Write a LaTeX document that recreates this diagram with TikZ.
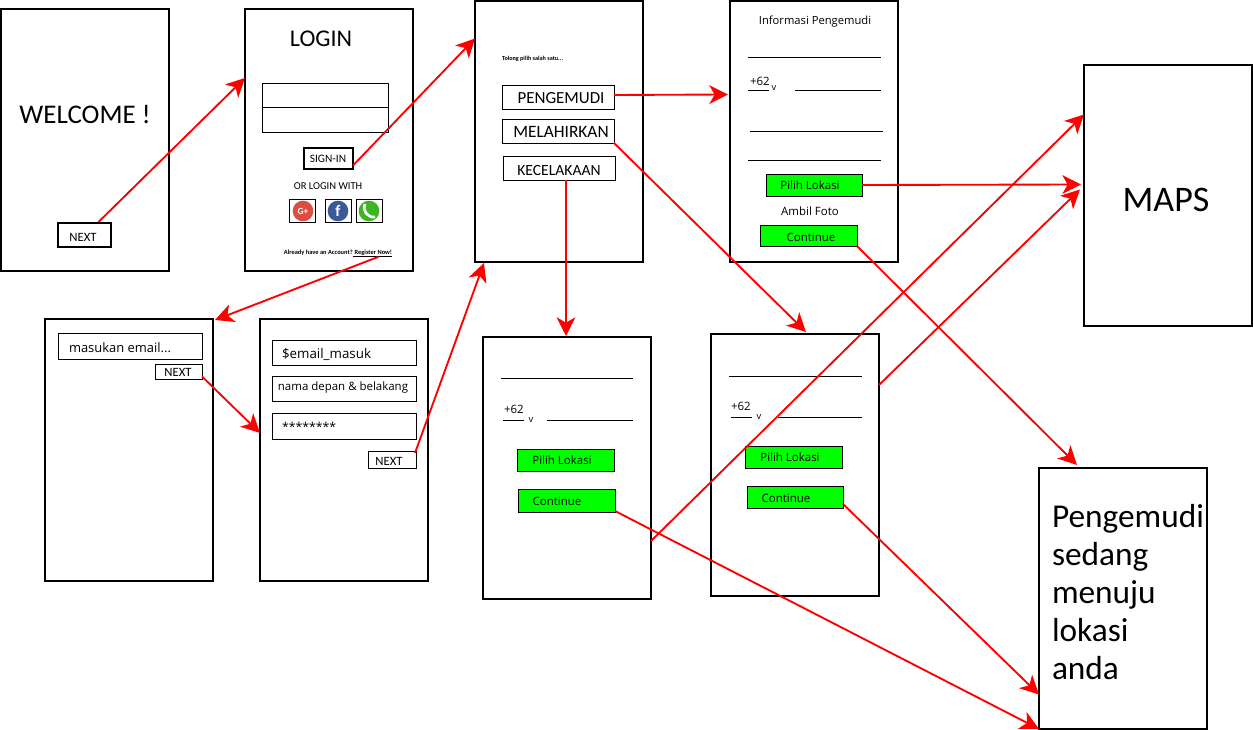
\documentclass[tikz,border=0pt]{standalone}
\usepackage{fontspec}
\setmainfont{Carlito}
\newfontfamily\uifont{Open Sans}
\usetikzlibrary{arrows.meta}
\definecolor{gred}{HTML}{DC4E41}
\definecolor{fblue}{HTML}{3B5998}
\definecolor{wgreen}{HTML}{3CB521}
\tikzset{
  screen/.style={draw=black,line width=1.5pt,fill=white},
  field/.style={draw=black,line width=0.65pt,fill=white},
  heavyfield/.style={draw=black,line width=1.1pt,fill=white},
  greenbtn/.style={draw=black,line width=0.65pt,fill=green},
  txt/.style={inner sep=0pt,outer sep=0pt,text=black},
  rule/.style={draw=black,line width=0.75pt},
  flow/.style={draw=red,line width=1.4pt,-{Stealth[length=14pt,width=14pt,inset=4pt]}},
  icon/.style={circle,minimum size=15.5pt,inner sep=0pt,text=white},
}
% name, style, x1, y1, x2, y2 (pixel coordinates)
\newcommand{\bx}[7][]{%
  \node[#3,#1,inner sep=0pt,outer sep=0pt,minimum width={(#6-#4)*0.75pt},minimum height={(#7-#5)*0.75pt}]
    (#2) at ({(#4+#6)/2},{(#5+#7)/2}) {};}
\begin{document}
\begin{tikzpicture}[x=0.75pt,y=-0.75pt]
\useasboundingbox (0,0) rectangle (1253,730);
\fill[white] (0,0) rectangle (1253,730);
% screens
\bx{welcome}{screen}{1}{9}{169}{271}
\bx{login}{screen}{245}{9}{413}{271}
\bx{choose}{screen}{475}{1}{643}{262}
\bx{driver}{screen}{730}{1}{898}{262}
\bx{maps}{screen}{1084}{65}{1252}{326}
\bx{email}{screen}{45}{319}{213}{581}
\bx{signup}{screen}{260}{319}{428}{581}
\bx{accident}{screen}{483}{337}{651}{599}
\bx{birth}{screen}{711}{334}{879}{596}
\bx{final}{screen}{1039}{468}{1207}{729}
% welcome
\node[txt,font=\fontsize{20.2}{24}\selectfont] (welcometext) at (85,115) {WELCOME !};
\bx{next1}{heavyfield}{58}{223}{111}{247}
\node[txt,font=\fontsize{9.5}{11}\selectfont] (next1text) at (83,237) {NEXT};
% login
\node[txt,font=\fontsize{18}{22}\selectfont] (logintext) at (321,39) {LOGIN};
\bx{user}{field}{262}{83}{388}{107}
\bx{pass}{field}{262}{107}{388}{132}
\bx{signin}{heavyfield}{304}{148}{353}{169}
\node[txt,font=\fontsize{8.5}{10}\selectfont] (signintext) at (328,159) {SIGN-IN};
\node[txt,font=\fontsize{7.9}{10}\selectfont] (orlogin) at (328,186) {OR LOGIN WITH};
\bx{gbox}{field}{289}{199}{315}{222}
\bx{fbox}{field}{325}{199}{351}{222}
\bx{wbox}{field}{356}{199}{382}{222}
\node[icon,fill=gred,font=\bfseries\fontsize{7}{8}\selectfont] (gicon) at (303,211) {G+};
\node[icon,fill=fblue,font=\bfseries\fontsize{12}{12}\selectfont] (ficon) at (338,211) {f};
\node[icon,fill=wgreen] (wicon) at (369,211) {};
\draw[white,line width=2pt] (365,204) .. controls (362,211) and (368,218) .. (375,217);
\node[txt,font=\bfseries\fontsize{4.8}{6}\selectfont] (already) at (338,253) {Already have an Account? Register Now!};
\draw[rule] (353,257) -- (392,257);
% choose
\node[txt,anchor=west,font=\bfseries\fontsize{4.6}{6}\selectfont] (please) at (502,59) {Tolong pilih salah satu...};
\bx{bdriver}{field}{502}{85}{614}{109}
\bx{bbirth}{field}{502}{119}{614}{143}
\bx{baccident}{field}{503}{156}{615}{180}
\node[txt,font=\fontsize{12.7}{14}\selectfont] (tdriver) at (561,98) {PENGEMUDI};
\node[txt,font=\fontsize{13}{14}\selectfont] (tbirth) at (561,132) {MELAHIRKAN};
\node[txt,font=\fontsize{11.7}{13}\selectfont] (taccident) at (559,170) {KECELAKAAN};
% driver form
\node[txt,font=\uifont\fontsize{8.4}{10}\selectfont] (driverinfo) at (815,22) {Informasi Pengemudi};
\draw[rule] (748,58) -- (881,58);
\node[txt,anchor=west,font=\uifont\fontsize{8.6}{10}\selectfont] (code1) at (750,81) {+62};
\draw[rule] (748,90.5) -- (769,90.5);
\node[txt,font=\uifont\fontsize{7}{8}\selectfont] (v1) at (774,88) {v};
\draw[rule] (795,90.5) -- (881,90.5);
\draw[rule] (750,132) -- (883,132);
\draw[rule] (748,161) -- (881,161);
\bx{pick1}{greenbtn}{766}{174}{862}{196}
\node[txt,font=\uifont\fontsize{8.6}{10}\selectfont] (pick1text) at (810,185) {Pilih Lokasi};
\node[txt,font=\uifont\fontsize{8.6}{10}\selectfont] (photo) at (810,211) {Ambil Foto};
\bx{cont1}{greenbtn}{760}{225}{857}{246}
\node[txt,font=\uifont\fontsize{8.6}{10}\selectfont] (cont1text) at (811,237) {Continue};
% email
\bx{mail}{field}{58}{333}{202}{359}
\node[txt,anchor=west,font=\uifont\fontsize{9.7}{11}\selectfont] (mailtext) at (69,348) {masukan email...};
\bx{next2}{field}{155}{364}{202}{379}
\node[txt,font=\fontsize{9.5}{11}\selectfont] (next2text) at (178,372) {NEXT};
% signup
\bx{fmail}{field}{272}{340}{416}{365}
\node[txt,anchor=west,font=\uifont\fontsize{10}{11}\selectfont] (fmailtext) at (282,354) {\$email\_masuk};
\bx{fname}{field}{272}{376}{416}{401}
\node[txt,font=\uifont\fontsize{8.6}{10}\selectfont] (fnametext) at (343,388) {nama depan \& belakang};
\bx{fpass}{field}{272}{413}{416}{439}
\node[txt,anchor=west,font=\uifont\fontsize{9.2}{11}\selectfont] (fpasstext) at (282,427) {********};
\bx{next3}{field}{368}{451}{416}{468}
\node[txt,font=\fontsize{9.5}{11}\selectfont] (next3text) at (389,461) {NEXT};
% accident form
\draw[rule] (501,378.5) -- (633,378.5);
\node[txt,anchor=west,font=\uifont\fontsize{8.6}{10}\selectfont] (code2) at (504,409) {+62};
\draw[rule] (503,420.5) -- (524,420.5);
\node[txt,font=\uifont\fontsize{7}{8}\selectfont] (v2) at (531,420.5) {v};
\draw[rule] (547,420.5) -- (633,420.5);
\bx{pick2}{greenbtn}{517}{449}{614}{471}
\node[txt,font=\uifont\fontsize{8.6}{10}\selectfont] (pick2text) at (562,460.5) {Pilih Lokasi};
\bx{cont2}{greenbtn}{518}{489}{615}{512}
\node[txt,font=\uifont\fontsize{8.6}{10}\selectfont] (cont2text) at (557,501) {Continue};
% birth form
\draw[rule] (729,376.5) -- (862,376.5);
\node[txt,anchor=west,font=\uifont\fontsize{8.6}{10}\selectfont] (code3) at (731,406) {+62};
\draw[rule] (731,417.5) -- (752,417.5);
\node[txt,font=\uifont\fontsize{7}{8}\selectfont] (v3) at (759,417) {v};
\draw[rule] (778,417.5) -- (862,417.5);
\bx{pick3}{greenbtn}{745}{446}{842}{468}
\node[txt,font=\uifont\fontsize{8.6}{10}\selectfont] (pick3text) at (790,457) {Pilih Lokasi};
\bx{cont3}{greenbtn}{747}{486}{843}{508}
\node[txt,font=\uifont\fontsize{8.6}{10}\selectfont] (cont3text) at (786,498) {Continue};
% big texts
\node[txt,font=\fontsize{27}{32}\selectfont] (mapstext) at (1166,200) {MAPS};
\node[txt,anchor=north west,align=left,font=\fontsize{25}{28.5}\selectfont] (finaltext) at (1052,504) {Pengemudi\\sedang\\menuju\\lokasi\\anda};
% connectors
\draw[flow] ([shift={(14,-1)}]next1.north) -- ([shift={(0,-62)}]login.west);
\draw[flow] ([shift={(0,7)}]signin.east) -- ([shift={(0,-93)}]choose.west);
\draw[flow] (bdriver.east |- 0,95) -- ([shift={(-2,-37)}]driver.west);
\draw[flow] (bbirth.south east) -- ([shift={(11,-2)}]birth.north);
\draw[flow] ([shift={(7,0)}]baccident.south) -- ([shift={(-1,-1)}]accident.north);
\draw[flow] (pick1.east) -- ([shift={(-3,-11)}]maps.west);
\draw[flow] (cont1.south east) -- ([shift={(-46,-3)}]final.north);
\draw[flow] ([shift={(0,-80)}]birth.east) -- ([shift={(-4,-6)}]maps.west);
\draw[flow] ([shift={(0,73)}]accident.east) -- ([shift={(0,-81)}]maps.west);
\draw[flow] ([shift={(0,10.5)}]cont2.east) -- (final.south west);
\draw[flow] ([shift={(0,7)}]cont3.east) -- ([shift={(0,96)}]final.west);
\draw[flow] ([shift={(50,1)}]signin.south |- already.south) -- ([shift={(2,1)}]email.north east |- 0,319);
\draw[flow] ([shift={(0,5)}]next2.east) -- ([shift={(0,-17)}]signup.west);
\draw[flow] ([shift={(-1,2)}]next3.north east) -- ([shift={(9,1)}]choose.south west);
\end{tikzpicture}
\end{document}
